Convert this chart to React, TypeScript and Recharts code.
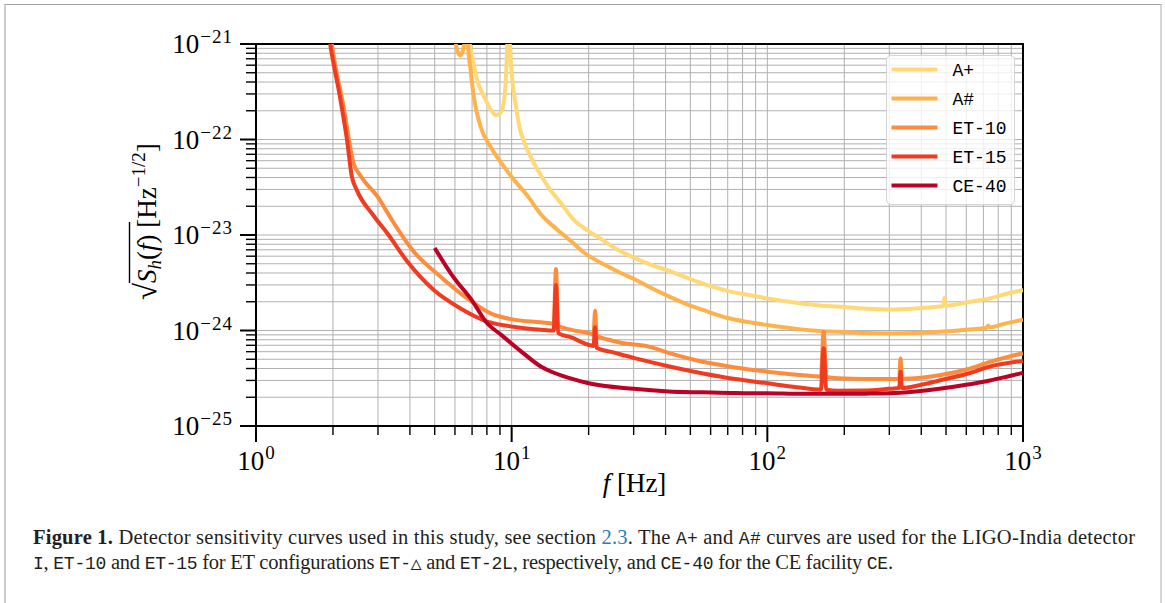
import React from "react";
import {
  LineChart, Line, XAxis, YAxis, CartesianGrid, Legend, ReferenceArea,
} from "recharts";

const SERIF = "'Liberation Serif', 'DejaVu Serif', serif";
const MONO = "'Liberation Mono', 'DejaVu Sans Mono', monospace";

// frequency [Hz] and amplitude spectral density [Hz^-1/2]
const aPlusF = [6.7, 6.85, 7.1, 7.33, 7.7, 8.03, 8.4, 8.65, 8.95, 9.2, 9.45, 9.6, 9.72, 9.84, 10.0, 10.4, 10.8, 11.1, 12, 12.9, 14, 15.5, 17.5, 20, 22.6, 26, 30.5, 35, 41.4, 48, 56, 70, 85, 100, 130, 160, 189, 240, 299, 380, 471, 487, 493, 499, 550, 620, 743, 850, 1000];
const aPlusS = [2e-21, 1e-21, 6.3e-22, 4.2e-22, 3.0e-22, 2.4e-22, 1.95e-22, 1.8e-22, 1.85e-22, 2.1e-22, 3.6e-22, 9e-22, 3e-21, 1e-21, 5e-22, 2.2e-22, 1.25e-22, 1.0e-22, 6.2e-23, 4.4e-23, 3.1e-23, 2.2e-23, 1.44e-23, 1.1e-23, 8.9e-24, 7.0e-24, 5.7e-24, 4.9e-24, 4.2e-24, 3.6e-24, 3.1e-24, 2.6e-24, 2.35e-24, 2.17e-24, 1.95e-24, 1.83e-24, 1.78e-24, 1.7e-24, 1.66e-24, 1.7e-24, 1.78e-24, 1.8e-24, 2.2e-24, 1.82e-24, 1.88e-24, 2.0e-24, 2.17e-24, 2.4e-24, 2.65e-24];

const aSharpF = [5.95, 6.05, 6.15, 6.3, 6.45, 6.55, 6.65, 6.75, 6.9, 7.11, 7.56, 8.27, 9.33, 10.2, 11.5, 13, 15, 17, 19.4, 23, 26.7, 30.5, 35, 41.4, 48, 56, 70, 85, 100, 130, 160, 189, 240, 299, 380, 471, 600, 722, 731, 740, 850, 1000];
const aSharpS = [1.5e-21, 1e-21, 8.3e-22, 7.6e-22, 8.6e-22, 1.1e-21, 3e-21, 1e-21, 5.5e-22, 2.8e-22, 1.36e-22, 8.4e-23, 5.2e-23, 3.8e-23, 2.6e-23, 1.65e-23, 1.15e-23, 8.7e-24, 6.4e-24, 4.9e-24, 4.0e-24, 3.4e-24, 2.8e-24, 2.26e-24, 1.9e-24, 1.64e-24, 1.35e-24, 1.22e-24, 1.14e-24, 1.04e-24, 9.9e-25, 9.7e-25, 9.4e-25, 9.3e-25, 9.4e-25, 9.7e-25, 1.02e-24, 1.07e-24, 1.13e-24, 1.08e-24, 1.18e-24, 1.3e-24];

const et10F = [1.9, 1.98, 2.2, 2.41, 2.56, 3.06, 3.25, 4.14, 5.27, 6.7, 8.27, 10.2, 13, 14.6, 14.9, 15.2, 17, 20.3, 20.9, 21.2, 21.5, 24, 27, 33.5, 41.4, 56, 75, 100, 130, 162, 166, 170, 189, 240, 299, 328, 332, 336, 400, 471, 600, 743, 1000];
const et10S = [2.5e-21, 1e-21, 2.2e-22, 5.6e-23, 4.2e-23, 2.3e-23, 1.75e-23, 6.7e-24, 3.66e-24, 2.17e-24, 1.51e-24, 1.3e-24, 1.22e-24, 1.18e-24, 4.4e-24, 1.12e-24, 1.02e-24, 9.3e-25, 9.1e-25, 1.61e-24, 8.8e-25, 8.0e-25, 7.4e-25, 6.9e-25, 5.8e-25, 4.7e-25, 4.1e-25, 3.7e-25, 3.45e-25, 3.3e-25, 9.7e-25, 3.28e-25, 3.16e-25, 3.1e-25, 3.1e-25, 3.12e-25, 5.1e-25, 3.13e-25, 3.2e-25, 3.4e-25, 3.9e-25, 4.7e-25, 5.8e-25];

const et15F = [1.88, 1.95, 2.13, 2.27, 2.37, 2.48, 2.88, 3.3, 3.9, 4.96, 6.31, 8.03, 9.6, 13, 14.6, 14.9, 15.2, 17, 20.3, 20.9, 21.2, 21.5, 25, 30.5, 41.4, 56, 75, 100, 130, 162, 166, 170, 189, 240, 299, 328, 332, 336, 400, 471, 600, 743, 1000];
const et15S = [2e-21, 1e-21, 2.8e-22, 9.9e-23, 4.1e-23, 2.95e-23, 1.6e-23, 1.0e-23, 5.3e-24, 2.65e-24, 1.7e-24, 1.24e-24, 1.12e-24, 1.02e-24, 1.0e-24, 3.0e-24, 9.4e-25, 8.5e-25, 7.0e-25, 6.9e-25, 1.08e-24, 6.6e-25, 5.9e-25, 5.1e-25, 4.2e-25, 3.55e-25, 3.1e-25, 2.8e-25, 2.55e-25, 2.4e-25, 6.5e-25, 2.4e-25, 2.34e-25, 2.35e-25, 2.45e-25, 2.5e-25, 3.7e-25, 2.5e-25, 2.7e-25, 3.0e-25, 3.5e-25, 4.2e-25, 4.8e-25];

const ce40F = [5.0, 5.9, 6.97, 8.0, 9.1, 11, 13, 14.3, 17, 20, 30, 41, 56, 75, 100, 140, 189, 240, 299, 380, 471, 600, 743, 870, 1000];
const ce40S = [7.3e-24, 3.66e-24, 2.09e-24, 1.2e-24, 9.0e-25, 5.9e-25, 4.2e-25, 3.7e-25, 3.15e-25, 2.8e-25, 2.45e-25, 2.3e-25, 2.25e-25, 2.21e-25, 2.2e-25, 2.17e-25, 2.17e-25, 2.18e-25, 2.2e-25, 2.3e-25, 2.45e-25, 2.7e-25, 3.0e-25, 3.3e-25, 3.6e-25];

const seriesNames = ["A+", "A#", "ET-10", "ET-15", "CE-40"];
const seriesColors = ["#fed976", "#feb24c", "#fd8d3c", "#f03b20", "#bd0026"];
const seriesF = [aPlusF, aSharpF, et10F, et15F, ce40F];
const seriesS = [aPlusS, aSharpS, et10S, et15S, ce40S];

const xMajor = [1, 10, 100, 1000];
const xExp = ["0", "1", "2", "3"];
const yMajor = [1e-25, 1e-24, 1e-23, 1e-22, 1e-21];
const yExp = ["\u221225", "\u221224", "\u221223", "\u221222", "\u221221"];
const minorMult = [2, 3, 4, 5, 6, 7, 8, 9];

function withMinor(major: number[]) {
  const out: number[] = [];
  major.forEach((m, i) => {
    out.push(m);
    if (i < major.length - 1) minorMult.forEach((k) => out.push(m * k));
  });
  return out;
}
const xTicks = withMinor(xMajor);
const yTicks = withMinor(yMajor);
const majorIndex = (major: number[], v: number) =>
  major.findIndex((m) => Math.abs(v / m - 1) < 1e-6);

function XTick(props: any) {
  const { x, y, payload } = props;
  const i = majorIndex(xMajor, payload.value);
  const major = i >= 0;
  return (
    <g>
      <line x1={x} x2={x} y1={y} y2={y + (major ? 16 : 9)} stroke="#000" strokeWidth={major ? 2 : 1.4} />
      {major && (
        <text x={x} y={y + 44} textAnchor="middle" fontFamily={SERIF} fontSize={27} fill="#000">
          10<tspan dy={-11} dx={1} fontSize={19}>{xExp[i]}</tspan>
        </text>
      )}
    </g>
  );
}

function YTick(props: any) {
  const { x, y, payload } = props;
  const i = majorIndex(yMajor, payload.value);
  const major = i >= 0;
  return (
    <g>
      <line x1={x - (major ? 16 : 10)} x2={x} y1={y} y2={y} stroke="#000" strokeWidth={major ? 2 : 1.4} />
      {major && (
        <text x={x - 23} y={y + 9} textAnchor="end" fontFamily={SERIF} fontSize={27} fill="#000">
          10<tspan dy={-10} dx={1} fontSize={19} letterSpacing={1}>{yExp[i]}</tspan>
        </text>
      )}
    </g>
  );
}

function XLabel(props: any) {
  const vb = props.viewBox || { x: 256, y: 426, width: 767, height: 40 };
  return (
    <text x={vb.x + vb.width / 2 - 5} y={vb.y + 66} textAnchor="middle" fontFamily={SERIF} fontSize={27} fill="#000">
      <tspan fontStyle="italic">f</tspan> [Hz]
    </text>
  );
}

function YLabel(props: any) {
  const vb = props.viewBox || { x: 156, y: 44, width: 100, height: 382 };
  return (
    <g transform={`translate(${vb.x},300) rotate(-90)`}>
      <text x={0} y={0} fontFamily={SERIF} fontSize={27} fill="#000">
        <tspan fontSize={31}>{"\u221a"}</tspan>
        <tspan fontStyle="italic">S</tspan>
        <tspan fontStyle="italic" fontSize={19} dy={5}>h</tspan>
        <tspan dy={-5}>(</tspan>
        <tspan fontStyle="italic">f</tspan>
        <tspan>)</tspan>
        <tspan> [Hz</tspan>
        <tspan fontSize={19} dy={-11}>{"\u22121/2"}</tspan>
        <tspan dy={11}>]</tspan>
      </text>
      <line x1={17} x2={78} y1={-26.5} y2={-26.5} stroke="#000" strokeWidth={1.4} />
    </g>
  );
}

function LegendBox() {
  return (
    <div
      style={{
        width: 129, height: 150, boxSizing: "border-box", border: "1.5px solid #d4d4d4",
        borderRadius: 5, background: "rgba(255,255,255,0.8)",
      }}
    >
      <svg width={126} height={147} style={{ display: "block" }}>
        {seriesNames.map((n, i) => (
          <g key={n}>
            <line x1={4.5} x2={50.5} y1={13.5 + i * 29} y2={13.5 + i * 29} stroke={seriesColors[i]} strokeWidth={4} />
            <text x={65.5} y={19.5 + i * 29} fontFamily={MONO} fontSize={18} fill="#000">{n}</text>
          </g>
        ))}
      </svg>
    </div>
  );
}

type Seg = { t: string; k?: "b" | "m" | "l" };
const cap1: Seg[] = [
  { t: "Figure 1.", k: "b" },
  { t: " Detector sensitivity curves used in this study, see section " },
  { t: "2.3", k: "l" },
  { t: ". The " },
  { t: "A+", k: "m" },
  { t: " and " },
  { t: "A#", k: "m" },
  { t: " curves are used for the LIGO-India detector" },
];
const cap2: Seg[] = [
  { t: "I", k: "m" }, { t: ", " }, { t: "ET-10", k: "m" }, { t: " and " },
  { t: "ET-15", k: "m" }, { t: " for ET configurations " }, { t: "ET-\u25b3", k: "m" },
  { t: " and " }, { t: "ET-2L", k: "m" }, { t: ", respectively, and " },
  { t: "CE-40", k: "m" }, { t: " for the CE facility " }, { t: "CE", k: "m" }, { t: "." },
];

function segs(list: Seg[]) {
  return list.map((s, i) => (
    <tspan
      key={i}
      fontWeight={s.k === "b" ? "bold" : undefined}
      fontFamily={s.k === "m" ? MONO : undefined}
      fontSize={s.k === "m" ? 18 : undefined}
      fill={s.k === "l" ? "#2b7bba" : undefined}
    >
      {s.t}
    </tspan>
  ));
}

export default function App() {
  return (
    <div style={{ position: "absolute", left: 0, top: 0, width: 1165, height: 603, background: "#fff", overflow: "hidden" }}>
      <div
        style={{
          position: "absolute", left: 4, top: 4, width: 1154, height: 640,
          borderTop: "1px solid #a0a0a0", borderLeft: "2px solid #cccccc", borderRight: "2px solid #d6d6d6",
        }}
      />
      <div style={{ position: "absolute", left: 0, top: 0 }}>
        <LineChart width={1165} height={510} margin={{ top: 44, right: 142, left: 156, bottom: 44 }}>
          <CartesianGrid stroke="#b0b0b0" strokeWidth={1} />
          <XAxis
            type="number" dataKey="f" scale="log" domain={[1, 1000]} allowDataOverflow
            ticks={xTicks} interval={0} tickSize={0} tickMargin={0} tickLine={false} axisLine={false}
            tick={<XTick />} height={40} label={<XLabel />}
          />
          <YAxis
            type="number" scale="log" domain={[1e-25, 1e-21]} allowDataOverflow
            ticks={yTicks} interval={0} tickSize={0} tickMargin={0} tickLine={false} axisLine={false}
            tick={<YTick />} width={100} label={<YLabel />}
          />
          {seriesNames.map((n, i) => (
            <Line
              key={n}
              name={n}
              data={seriesF[i].map((f, j) => ({ f, v: seriesS[i][j] }))}
              dataKey="v"
              type="monotone"
              stroke={seriesColors[i]}
              strokeWidth={4}
              dot={false}
              activeDot={false}
              isAnimationActive={false}
            />
          ))}
          <ReferenceArea x1={1} x2={1000} y1={1e-25} y2={1e-21} fill="none" fillOpacity={0} stroke="#000" strokeWidth={2} ifOverflow="visible" />
          <Legend
            layout="vertical" align="center" verticalAlign="middle"
            wrapperStyle={{ left: 886, top: 55, width: 129, height: 150 }}
            content={() => <LegendBox />}
          />
        </LineChart>
      </div>
      <svg width={1165} height={603} style={{ position: "absolute", left: 0, top: 0, pointerEvents: "none" }}>
        <text x={33} y={544} fontFamily={SERIF} fontSize={20.5} fill="#231f20" textLength={1102} lengthAdjust="spacing" style={{ whiteSpace: "pre" }}>
          {segs(cap1)}
        </text>
        <text x={33} y={569} fontFamily={SERIF} fontSize={20.5} fill="#231f20" textLength={860} lengthAdjust="spacing" style={{ whiteSpace: "pre" }}>
          {segs(cap2)}
        </text>
      </svg>
    </div>
  );
}
